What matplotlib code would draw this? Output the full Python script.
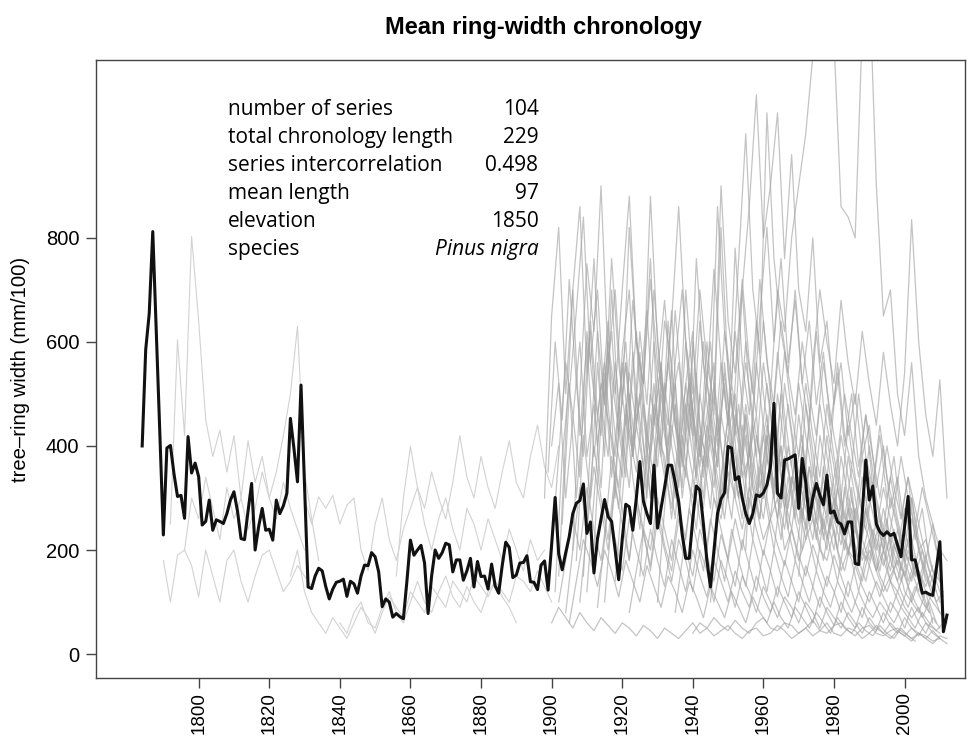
import numpy as np
import matplotlib.pyplot as plt

# mean chronology, one value per year 1784-2012
mean_start = 1784
mean_rwl = [
    400, 585, 655, 812, 620, 425, 229, 396, 401, 347,   # 1784-1793
    303, 305, 261, 418, 348, 367, 341, 248, 255, 296,   # 1794-1803
    238, 258, 255, 251, 270, 296, 312, 275, 222, 220,   # 1804-1813
    275, 328, 200, 245, 280, 238, 240, 219, 296, 270,   # 1814-1823
    285, 309, 453, 395, 331, 517, 320, 129, 126, 150,   # 1824-1833
    165, 160, 130, 106, 125, 138, 140, 144, 111, 140,   # 1834-1843
    135, 117, 150, 171, 170, 195, 187, 158, 91, 106,    # 1844-1853
    100, 71, 78, 72, 68, 140, 219, 190, 200, 209,       # 1854-1863
    175, 78, 150, 200, 184, 195, 213, 210, 158, 181,    # 1864-1873
    181, 142, 160, 184, 129, 178, 149, 150, 125, 173,   # 1874-1883
    131, 117, 170, 215, 205, 147, 152, 175, 176, 189,   # 1884-1893
    139, 138, 124, 171, 179, 123, 210, 301, 193, 162,   # 1894-1903
    195, 226, 270, 290, 295, 327, 232, 254, 156, 222,   # 1904-1913
    260, 297, 264, 255, 200, 143, 220, 288, 283, 238,   # 1914-1923
    300, 370, 294, 270, 251, 363, 242, 280, 320, 363,   # 1924-1933
    363, 330, 293, 230, 184, 184, 260, 323, 315, 250,   # 1934-1943
    180, 129, 200, 270, 298, 310, 399, 396, 335, 341,   # 1944-1953
    300, 270, 251, 270, 306, 303, 310, 325, 360, 482,   # 1954-1963
    309, 300, 373, 375, 379, 383, 280, 376, 330, 258,   # 1964-1973
    300, 328, 305, 287, 344, 271, 275, 254, 250, 231,   # 1974-1983
    254, 254, 174, 172, 270, 373, 296, 323, 250, 235,   # 1984-1993
    228, 235, 228, 232, 210, 187, 245, 303, 181, 181,   # 1994-2003
    150, 117, 119, 115, 113, 165, 216, 43, 75,          # 2004-2012
]

# individual series (estimated, every second year): (first year, values)
p01 = (1790, [180, 100, 190, 200, 170, 110, 200, 150, 100, 180, 200, 140, 100, 150, 190, 200, 160, 120, 140, 170, 150, 130])
p02 = (1792, [250, 604, 420, 803, 640, 450, 380, 430, 350, 420, 300, 410, 330, 380, 300, 350, 420, 500, 630, 350, 260, 180])
p03 = (1796, [200, 300, 260, 340, 280, 220, 320, 260, 300, 240, 280, 350, 300, 260, 330, 280, 240, 200])
p04 = (1826, [150, 200, 120, 80, 60, 40, 70, 50, 30, 60, 90, 70, 40, 80, 110, 90, 70, 120, 100, 80, 130, 110, 90, 140, 120, 100, 150, 130, 110, 140, 120, 100, 150, 140, 120, 160, 130, 100])
p05 = (1830, [300, 250, 302, 280, 305, 250, 286, 300, 200, 160, 250, 300, 220, 180, 240, 280, 320, 250, 200, 260, 300, 240, 200, 280, 250, 200, 260, 220, 180, 240, 200, 160, 220, 180, 200])
p06 = (1856, [150, 300, 399, 320, 280, 350, 300, 260, 330, 420, 340, 300, 380, 320, 280, 350, 410, 330, 300, 380, 440, 360, 320, 400])
p07 = (1840, [60, 40, 80, 100, 60, 50, 90, 120, 80, 60, 100, 140, 100, 80, 120, 150, 110, 90, 130, 100, 80, 120, 140, 110, 90, 60])

g01 = (1898, [300, 650, 820, 500, 700, 420, 600, 380, 520, 450, 380, 560, 420, 350, 480, 300, 420, 380, 260, 400, 350, 300, 420, 380, 300, 260, 350, 300, 240, 320, 280, 220, 260, 300, 200, 240, 180, 220, 260, 200, 180, 240, 160, 200, 180, 140, 200, 160, 120, 150, 180, 120, 100, 140, 90, 120, 80, 60])
g02 = (1902, [150, 420, 700, 860, 540, 760, 480, 640, 300, 580, 700, 450, 520, 880, 600, 480, 660, 400, 520, 620, 380, 460, 560, 300, 420, 500, 340, 380, 460, 300, 360, 420, 280, 340, 300, 240, 320, 280, 220, 300, 260, 200, 240, 180, 220, 160, 200, 140, 120, 160, 100, 80, 120, 60])
g03 = (1904, [80, 200, 320, 250, 400, 300, 220, 350, 280, 180, 300, 240, 160, 260, 200, 140, 220, 180, 120, 200, 160, 100, 180, 140, 90, 150, 120, 80, 130, 100, 70, 110, 90, 60, 100, 80, 50, 90, 70, 50, 80, 60, 40, 70, 50, 40, 60, 45, 35, 50, 40, 30, 45, 30])
g04 = (1900, [60, 90, 70, 50, 80, 60, 45, 70, 55, 40, 60, 50, 35, 55, 45, 30, 50, 40, 30, 45, 60, 40, 50, 35, 45, 55, 40, 30, 45, 50, 35, 40, 55, 45, 30, 40, 50, 35, 45, 60, 40, 35, 50, 45, 30, 40, 55, 40, 30, 45, 35, 25, 40, 30, 20, 35, 30])
g05 = (1906, [200, 500, 750, 620, 900, 560, 700, 480, 820, 600, 520, 760, 440, 640, 560, 400, 700, 520, 380, 600, 460, 820, 540, 420, 700, 500, 380, 560, 460, 340, 520, 420, 300, 480, 360, 280, 420, 320, 240, 380, 300, 220, 340, 260, 200, 300, 240, 180, 260, 200, 140])
g06 = (1910, [120, 300, 480, 380, 560, 420, 320, 500, 400, 300, 460, 360, 280, 420, 340, 600, 440, 360, 520, 400, 300, 460, 380, 280, 420, 340, 260, 380, 300, 240, 340, 280, 220, 320, 260, 200, 300, 240, 180, 260, 220, 160, 240, 180, 140, 200, 160, 120, 180, 140, 100])
g07 = (1915, [100, 260, 420, 560, 400, 620, 480, 700, 520, 440, 660, 500, 420, 760, 560, 480, 860, 620, 520, 760, 1000, 700, 580, 1040, 760, 620, 540, 700, 520, 440, 620, 480, 400, 560, 420, 360, 500, 380, 320, 440, 340, 280, 380, 300, 240, 320, 260, 200])
g08 = (1960, [300, 500, 700, 620, 800, 900, 1000, 1150, 1200, 1250, 1180, 860, 840, 800, 1200, 1300, 900, 650, 700, 500, 420, 560, 380, 300, 250, 200, 180])
g09 = (1950, [300, 520, 700, 860, 1075, 800, 900, 1040, 760, 960, 700, 620, 800, 560, 640, 480, 560, 420, 500, 380, 440, 320, 400, 280, 340, 240, 300, 200, 220, 160, 140])
g10 = (1900, [400, 520, 300, 450, 600, 380, 480, 320, 560, 420, 340, 500, 380, 300, 460, 360, 520, 400, 320, 480, 380, 300, 440, 360, 280, 420, 340, 260, 400, 320, 260, 360, 300, 240, 340, 280, 220, 320, 260, 200, 300, 240, 190, 280, 220, 180, 260, 200, 160, 240, 180, 140, 200, 150, 110])
g11 = (1908, [100, 240, 360, 280, 200, 320, 250, 180, 300, 230, 170, 280, 210, 160, 260, 200, 150, 240, 190, 140, 230, 180, 130, 220, 170, 120, 200, 160, 110, 180, 140, 100, 170, 130, 90, 150, 120, 80, 140, 100, 70, 120, 90, 60, 100, 80, 50, 90, 60, 40, 70, 50])
g12 = (1912, [200, 450, 600, 500, 700, 880, 600, 520, 720, 560, 480, 640, 860, 600, 500, 700, 560, 480, 900, 640, 540, 720, 560, 460, 640, 500, 420, 580, 460, 380, 520, 420, 340, 480, 380, 300, 440, 340, 280, 400, 300, 240, 340, 260, 200, 300, 220, 180, 250, 160])
g13 = (1903, [250, 500, 660, 840, 560, 700, 480, 620, 420, 560, 380, 500, 660, 440, 560, 400, 520, 360, 480, 340, 460, 600, 420, 520, 380, 480, 340, 440, 320, 420, 300, 400, 280, 380, 260, 360, 250, 340, 240, 320, 230, 300, 220, 280, 200, 260, 180, 240, 160, 220, 150, 200, 130, 170, 110])
g14 = (1925, [150, 320, 480, 400, 560, 440, 380, 520, 420, 360, 500, 400, 620, 480, 400, 560, 460, 380, 520, 420, 360, 480, 380, 320, 440, 340, 280, 400, 320, 260, 360, 300, 240, 320, 260, 200, 280, 220, 180, 240, 180, 140, 100, 120])
g15 = (1935, [80, 180, 280, 220, 160, 260, 200, 140, 240, 180, 130, 220, 170, 120, 200, 150, 110, 180, 140, 100, 160, 120, 90, 140, 110, 80, 120, 90, 70, 100, 80, 60, 90, 70, 50, 80, 60, 45, 60])
g16 = (1940, [40, 60, 50, 70, 55, 45, 65, 50, 40, 60, 70, 50, 45, 60, 55, 40, 50, 65, 45, 40, 55, 60, 45, 35, 50, 55, 40, 35, 45, 50, 40, 30, 40, 35, 25, 30, 20])
g17 = (1970, [150, 350, 560, 700, 600, 520, 680, 560, 480, 620, 520, 440, 580, 480, 400, 540, 835, 600, 460, 380, 527, 300])
g18 = (1900, [200, 380, 560, 460, 340, 620, 500, 420, 580, 480, 380, 540, 440, 360, 500, 420, 340, 480, 560, 420, 340, 500, 400, 320, 460, 380, 300, 440, 360, 280, 420, 340, 260, 380, 320, 250, 340, 290, 230, 310, 260, 210, 280, 240, 190, 250, 210, 170, 230, 190, 150, 200, 160, 130, 170])
g19 = (1945, [100, 250, 400, 520, 420, 600, 500, 720, 560, 480, 640, 540, 460, 600, 500, 420, 560, 460, 380, 500, 420, 340, 460, 380, 300, 400, 320, 260, 340, 280, 220, 160, 120])
g20 = (1905, [60, 140, 220, 180, 130, 200, 160, 110, 180, 140, 100, 170, 130, 90, 150, 120, 80, 140, 110, 70, 130, 100, 70, 120, 90, 60, 110, 80, 60, 100, 70, 50, 90, 70, 50, 80, 60, 40, 70, 50, 40, 60, 45, 35, 55, 40, 30, 50, 35, 25])
g21 = (1901, [120, 380, 520, 300, 460, 620, 400, 540, 340, 480, 600, 380, 500, 320, 440, 560, 360, 480, 300, 420, 540, 340, 460, 280, 400, 500, 320, 420, 260, 380, 460, 300, 400, 240, 340, 420, 260, 360, 220, 300, 380, 240, 320, 200, 260, 320, 200, 260, 160, 220, 140, 180, 110])
g22 = (1907, [180, 420, 300, 560, 380, 700, 460, 340, 580, 420, 300, 520, 380, 640, 440, 320, 540, 400, 300, 480, 360, 560, 400, 300, 460, 340, 260, 420, 320, 500, 360, 260, 400, 300, 220, 360, 280, 200, 320, 240, 180, 280, 220, 160, 240, 180, 140, 200, 150])
g23 = (1913, [90, 220, 380, 280, 460, 340, 240, 400, 300, 520, 360, 260, 420, 320, 240, 380, 280, 460, 340, 260, 400, 300, 220, 360, 280, 200, 320, 240, 180, 280, 220, 160, 260, 200, 140, 220, 180, 120, 190, 150, 110, 160, 120, 90, 130, 100, 70, 100, 60])
g24 = (1899, [350, 600, 450, 720, 520, 380, 640, 460, 560, 400, 320, 480, 380, 580, 420, 340, 500, 380, 300, 440, 520, 360, 280, 420, 340, 260, 380, 300, 460, 320, 260, 380, 300, 220, 340, 260, 200, 300, 240, 180, 260, 200, 160, 220, 180, 140, 200, 150, 120, 160, 120, 90, 130, 100, 80])
g25 = (1918, [140, 300, 460, 620, 480, 380, 540, 680, 500, 400, 600, 460, 360, 520, 740, 560, 440, 620, 480, 380, 560, 440, 340, 500, 400, 320, 460, 360, 280, 420, 340, 260, 380, 300, 240, 340, 260, 200, 280, 220, 170, 240, 180, 140, 190])
g26 = (1930, [100, 280, 440, 360, 520, 420, 640, 480, 380, 560, 440, 780, 560, 460, 640, 500, 400, 580, 460, 360, 520, 420, 340, 480, 380, 300, 420, 340, 260, 380, 300, 240, 320, 260, 200, 280, 220, 160, 120, 100, 80])
g27 = (1902, [100, 180, 260, 200, 320, 240, 180, 280, 220, 160, 260, 200, 150, 240, 180, 130, 220, 170, 120, 200, 150, 110, 180, 140, 100, 160, 120, 90, 150, 110, 80, 130, 100, 70, 120, 90, 60, 110, 80, 55, 100, 70, 50, 90, 60, 45, 80, 55, 40, 70, 50, 35, 60, 40, 30])
g28 = (1955, [200, 450, 650, 820, 600, 760, 560, 680, 520, 640, 480, 580, 440, 540, 400, 500, 360, 460, 320, 420, 300, 380, 260, 340, 220, 280, 180, 140, 100])
g29 = (1922, [80, 160, 240, 200, 300, 240, 180, 280, 220, 340, 260, 200, 300, 240, 180, 260, 200, 300, 240, 190, 260, 210, 170, 240, 190, 150, 210, 170, 130, 190, 150, 110, 170, 130, 100, 140, 110, 80, 120, 90, 70, 90, 60, 50, 40])
g30 = (1909, [150, 400, 620, 480, 760, 560, 440, 680, 520, 400, 600, 460, 380, 560, 700, 500, 400, 600, 460, 360, 540, 420, 340, 480, 380, 300, 440, 360, 280, 400, 320, 260, 360, 300, 240, 320, 260, 200, 280, 220, 180, 240, 200, 160, 210, 170, 130, 170, 120, 80])

early_series = [p01, p02, p03, p04, p05, p06, p07]
late_series = [g01, g02, g03, g04, g05, g06, g07, g08, g09, g10,
               g11, g12, g13, g14, g15, g16, g17, g18, g19, g20,
               g21, g22, g23, g24, g25, g26, g27, g28, g29, g30]

info_labels = ["number of series", "total chronology length", "series intercorrelation",
               "mean length", "elevation", "species"]
info_values = ["104", "229", "0.498", "97", "1850", "Pinus nigra"]

x_ticks = list(range(1800, 2001, 20))
y_ticks = [0, 200, 400, 600, 800]

fig = plt.figure(figsize=(9.79, 7.39), dpi=100)
ax = fig.add_axes([0.098, 0.0825, 0.888, 0.8365])

for start, vals in early_series:
    yrs = np.arange(start, start + 2 * len(vals), 2)
    ax.plot(yrs, vals, color="#d2d2d2", lw=0.8, zorder=1)
for start, vals in late_series:
    yrs = np.arange(start, start + 2 * len(vals), 2)
    ax.plot(yrs, vals, color="#a4a4a4", lw=0.9, alpha=0.65, zorder=1)

years = np.arange(mean_start, mean_start + len(mean_rwl))
ax.plot(years, mean_rwl, color="#111111", lw=2.2, zorder=3)

ax.set_xlim(1770.9, 2017.2)
ax.set_ylim(-46, 1142)
ax.set_xticks(x_ticks)
ax.set_xticklabels([str(t) for t in x_ticks], rotation=90, fontsize=13.5, family="Liberation Sans")
ax.set_yticks(y_ticks)
ax.set_yticklabels([str(t) for t in y_ticks], fontsize=14.5, family="Liberation Sans")
ax.tick_params(length=7, width=1, color="#444444", pad=5)
ax.tick_params(axis="x", pad=3)
for s in ax.spines.values():
    s.set_color("#444444")
    s.set_linewidth(1)

ax.set_ylabel("tree\u2013ring width (mm/100)", fontsize=14.6, family="Liberation Sans", labelpad=11)
fig.text(0.555, 0.963, "Mean ring-width chronology", ha="center", va="center",
         fontsize=17, fontweight="bold", family="Liberation Sans")

for i, (lab, val) in enumerate(zip(info_labels, info_values)):
    yy = 0.919 - i * 0.0453
    ax.text(0.152, yy, lab, transform=ax.transAxes, ha="left", va="center",
            fontsize=15, family="Open Sans", zorder=4)
    ax.text(0.509, yy, val, transform=ax.transAxes, ha="right", va="center",
            fontsize=15, family="Open Sans", style="italic" if lab == "species" else "normal", zorder=4)

fig.savefig("out.png", dpi=100)
